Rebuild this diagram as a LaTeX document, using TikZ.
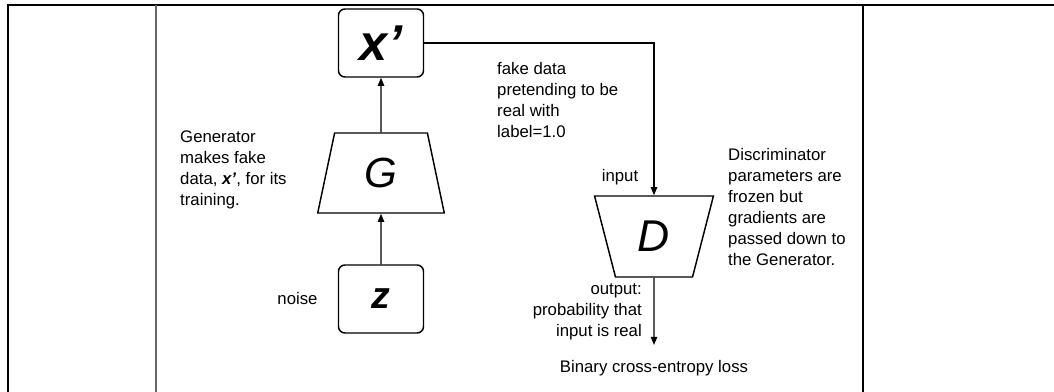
\documentclass[tikz,border=0pt]{standalone}
\usepackage{fontspec}
\setmainfont{Liberation Sans}
\usetikzlibrary{shapes.geometric, arrows.meta, positioning}

\begin{document}
\begin{tikzpicture}[
    x=0.03cm, y=-0.03cm,
    box/.style={
        draw,
        rounded corners=5.5pt,
        minimum width=2.55cm,
        minimum height=2.04cm,
        inner sep=0pt,
        line width=1.25pt
    },
    net/.style={
        draw,
        trapezium,
        trapezium stretches=true,
        inner sep=0pt,
        line width=1.25pt
    },
    txt/.style={
        font=\fontsize{14.3}{17.9}\selectfont,
        inner sep=0pt
    },
    frame/.style={line width=1.7pt},
    >={Triangle[length=7pt,width=5.5pt]}
]
\useasboundingbox (0,0) rectangle (1054,392);

% table frame
\draw[frame] (8,392) -- (8,5) -- (1054,5);
\draw[frame, gray!80!black] (156,5) -- (156,392);
\draw[frame] (863,5) -- (863,392);

% generator side
\node[box, font=\fontsize{43}{43}\selectfont\bfseries\itshape] (xfake) at (381,43) {x’};
\node[net, trapezium angle=78.7, minimum width=3.81cm, minimum height=2.4cm,
      font=\fontsize{36}{36}\selectfont\itshape] (gen) at (381,173) {G};
\node[box, font=\fontsize{32}{32}\selectfont\bfseries\itshape] (noise) at (381,299) {z};

\node[txt, left=0.6cm of noise] (noiselbl) {noise};
\node[txt, align=left, anchor=west] (gentxt) at (180,170)
    {Generator\\makes fake\\data, \textbf{\textit{x’}}, for its\\training.};

% discriminator side
\node[net, trapezium angle=74.1, shape border rotate=180,
      minimum width=3.57cm, minimum height=2.43cm,
      font=\fontsize{38}{38}\selectfont\itshape] (disc) at (654,236.5) {D};

\node[txt, align=left, anchor=west] (faketxt) at (497,100)
    {fake data\\pretending to be\\real with\\label=1.0};
\node[txt] (inputlbl) at (620,177) {input};
\node[txt, align=left, anchor=west] (disctxt) at (728,207)
    {Discriminator\\parameters are\\frozen but\\gradients are\\passed down to\\the Generator.};
\node[txt, align=right, anchor=east] (outtxt) at (642,312)
    {output:\\probability that\\input is real};
\node[txt] (loss) at (654,368) {Binary cross-entropy loss};
\coordinate (lossin) at (654,345);

% connectors
\draw[->, line width=1.25pt] (noise) -- (gen);
\draw[->, line width=1.25pt] (gen) -- (xfake);
\draw[->, line width=1.25pt] (xfake.east) -| (disc.north);
\draw[->, line width=1.25pt] (disc.south) -- (lossin);

\end{tikzpicture}
\end{document}
